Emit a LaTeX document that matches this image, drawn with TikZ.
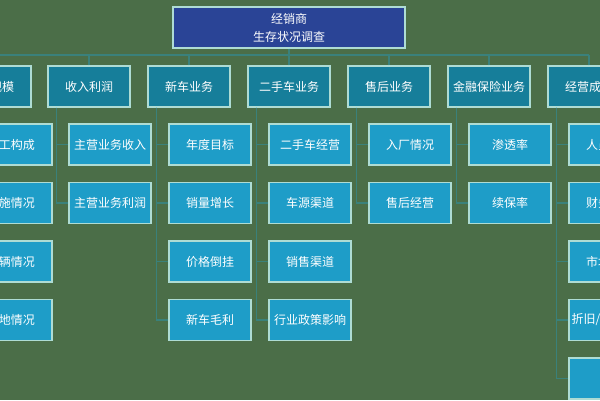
\documentclass[tikz,border=0pt]{standalone}
\usepackage{fontspec}
\newfontfamily\cjk{Noto Sans CJK SC}
\definecolor{bg}{HTML}{4B6E48}
\definecolor{topfill}{HTML}{2A4496}
\definecolor{headfill}{HTML}{167E9A}
\definecolor{childfill}{HTML}{1E9DC8}
\definecolor{edge}{HTML}{AEDCD4}
\definecolor{linec}{HTML}{3A817B}
\tikzset{
  box/.style={draw=edge, line width=1.1pt, text=white, font=\cjk\fontsize{12}{18}\selectfont,
    minimum width=82pt, minimum height=41pt, inner sep=1pt, align=center},
  topbox/.style={box, fill=topfill, minimum width=232pt},
  headbox/.style={box, fill=headfill},
  childbox/.style={box, fill=childfill},
  conn/.style={draw=linec, line width=1.5pt}
}
\begin{document}
\begin{tikzpicture}[x=1pt,y=-1pt]
\useasboundingbox (0,0) rectangle (600,400);
\fill[bg] (0,0) rectangle (600,400);
\clip (0,0) rectangle (600,400);
\coordinate (bus) at (0,55);
% top
\node[topbox] (top) at (289,27.5) {经销商\\生存状况调查};
% level 1
\node[headbox] (p1) at (-10,86.5) {经营规模};
\node[headbox] (p2) at (89,86.5) {收入利润};
\node[headbox] (p3) at (189,86.5) {新车业务};
\node[headbox] (p4) at (289,86.5) {二手车业务};
\node[headbox] (p5) at (389,86.5) {售后业务};
\node[headbox] (p6) at (489,86.5) {金融保险业务};
\node[headbox] (p7) at (589,86.5) {经营成本};
% children
\node[childbox] (c1a) at (11,144.5) {员工构成};
\node[childbox] (c1b) at (11,203) {设施情况};
\node[childbox] (c1c) at (11,261.5) {车辆情况};
\node[childbox] (c1d) at (11,320) {场地情况};
\node[childbox] (c2a) at (110,144.5) {主营业务收入};
\node[childbox] (c2b) at (110,203) {主营业务利润};
\node[childbox] (c3a) at (210,144.5) {年度目标};
\node[childbox] (c3b) at (210,203) {销量增长};
\node[childbox] (c3c) at (210,261.5) {价格倒挂};
\node[childbox] (c3d) at (210,320) {新车毛利};
\node[childbox] (c4a) at (310,144.5) {二手车经营};
\node[childbox] (c4b) at (310,203) {车源渠道};
\node[childbox] (c4c) at (310,261.5) {销售渠道};
\node[childbox] (c4d) at (310,320) {行业政策影响};
\node[childbox] (c5a) at (410,144.5) {入厂情况};
\node[childbox] (c5b) at (410,203) {售后经营};
\node[childbox] (c6a) at (510,144.5) {渗透率};
\node[childbox] (c6b) at (510,203) {续保率};
\node[childbox] (c7a) at (610,144.5) {人员成本};
\node[childbox] (c7b) at (610,203) {财务成本};
\node[childbox] (c7c) at (610,261.5) {市场费用};
\node[childbox] (c7d) at (610,320) {折旧/摊销成本};
\node[childbox] (c7e) at (610,378.5) {};
% bus
\draw[conn] (top.south) -- (top.south |- bus);
\draw[conn] (p1.north |- bus) -- (p7.north |- bus);
\foreach \p in {p1,p2,p3,p4,p5,p6,p7}{
  \draw[conn] (\p.north) -- (\p.north |- bus);
}
% branch connectors
\foreach \p/\cs in {p1/{c1a,c1b,c1c,c1d},p2/{c2a,c2b},p3/{c3a,c3b,c3c,c3d},p4/{c4a,c4b,c4c,c4d},p5/{c5a,c5b},p6/{c6a,c6b},p7/{c7a,c7b,c7c,c7d,c7e}}{
  \foreach \c in \cs {
    \draw[conn] ([xshift=9pt]\p.south west) |- (\c.west);
  }
}
\end{tikzpicture}
\end{document}
